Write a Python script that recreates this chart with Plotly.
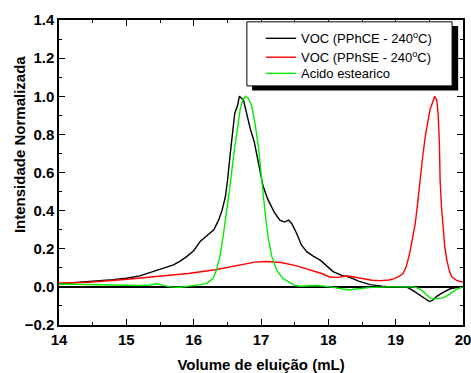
import plotly.graph_objects as go

# VOC (PPhCE - 240 C)  -- black
x_pphce = [14.0, 14.3, 14.5, 14.8, 15.0, 15.2, 15.4, 15.55, 15.7, 15.8, 15.9, 16.0, 16.1, 16.2,
           16.3, 16.37, 16.42, 16.47, 16.5, 16.55, 16.58, 16.61, 16.65, 16.68, 16.71, 16.74,
           16.78, 16.84, 16.9, 16.96, 17.03, 17.1, 17.2, 17.28, 17.35, 17.41, 17.46, 17.53,
           17.6, 17.68, 17.78, 17.88, 17.98, 18.07, 18.2, 18.32, 18.45, 18.62, 18.8, 18.92,
           19.05, 19.16, 19.26, 19.36, 19.44, 19.5, 19.55, 19.61, 19.7, 19.81, 19.9, 20.0]
y_pphce = [0.015, 0.022, 0.03, 0.038, 0.045, 0.058, 0.08, 0.095, 0.115, 0.135, 0.16, 0.19, 0.24, 0.27,
           0.30, 0.35, 0.40, 0.47, 0.55, 0.72, 0.80, 0.91, 0.95, 1.0, 0.99, 0.98,
           0.92, 0.83, 0.76, 0.66, 0.53, 0.46, 0.39, 0.35, 0.34, 0.35, 0.33, 0.28,
           0.22, 0.185, 0.16, 0.14, 0.11, 0.08, 0.06, 0.05, 0.03, 0.012, 0.004, 0.0,
           0.0, 0.0, -0.02, -0.045, -0.065, -0.077, -0.07, -0.05, -0.03, -0.01, -0.003, 0.0]

# VOC (PPhSE - 240 C)  -- red
x_pphse = [14.0, 14.44, 14.93, 15.43, 15.92, 16.32, 16.66, 16.91, 17.08, 17.3, 17.53, 17.73,
           17.9, 18.02, 18.15, 18.27, 18.4, 18.52, 18.65, 18.77, 18.9, 18.97, 19.05, 19.11,
           19.16, 19.21, 19.25, 19.29, 19.33, 19.36, 19.4, 19.44, 19.48, 19.51, 19.55, 19.58,
           19.61, 19.63, 19.65, 19.66, 19.68, 19.71, 19.73, 19.76, 19.8, 19.83, 19.9, 19.96, 20.0]
y_pphse = [0.02, 0.024, 0.037, 0.054, 0.07, 0.09, 0.115, 0.13, 0.133, 0.128, 0.11, 0.09,
           0.07, 0.052, 0.05, 0.058, 0.05, 0.04, 0.035, 0.033, 0.036, 0.042, 0.055, 0.07,
           0.11, 0.18, 0.25, 0.33, 0.45, 0.56, 0.68, 0.79, 0.88, 0.93, 0.97, 1.0,
           0.98, 0.91, 0.75, 0.56, 0.42, 0.30, 0.21, 0.14, 0.08, 0.054, 0.035, 0.028, 0.025]

# Acido estearico -- green
x_acido = [14.0, 14.4, 14.86, 15.2, 15.35, 15.45, 15.55, 15.65, 15.8, 15.95, 16.1, 16.2, 16.29,
           16.34, 16.39, 16.44, 16.49, 16.54, 16.59, 16.64, 16.69, 16.73, 16.77, 16.81, 16.86,
           16.91, 16.96, 17.0, 17.03, 17.07, 17.11, 17.16, 17.23, 17.32, 17.43, 17.5, 17.58,
           17.83, 18.03, 18.15, 18.3, 18.45, 18.6, 18.85, 19.1, 19.26, 19.34, 19.41, 19.46,
           19.51, 19.57, 19.63, 19.7, 19.76, 19.84, 19.91, 20.0]
y_acido = [0.015, 0.012, 0.007, 0.007, 0.01, 0.016, 0.008, 0.0, -0.002, 0.004, 0.012, 0.02, 0.045,
           0.09, 0.16, 0.27, 0.39, 0.53, 0.68, 0.82, 0.93, 0.98, 1.0, 0.99, 0.95,
           0.86, 0.74, 0.60, 0.48, 0.36, 0.25, 0.16, 0.09, 0.045, 0.022, 0.008, 0.003,
           0.007, 0.0, -0.006, -0.016, -0.01, -0.004, 0.0, 0.0, 0.0, -0.008, -0.025, -0.042,
           -0.058, -0.064, -0.063, -0.058, -0.047, -0.03, -0.012, 0.0]

names = ["VOC (PPhCE - 240<sup>o</sup>C)", "VOC (PPhSE - 240<sup>o</sup>C)", "Acido estearico"]
colors = ["black", "#ff0000", "#00ee00"]
xs_all = [x_pphce, x_pphse, x_acido]
ys_all = [y_pphce, y_pphse, y_acido]

FONT = "Liberation Sans, Arial"

fig = go.Figure()
for name, xs, ys, col in zip(names, xs_all, ys_all, colors):
    fig.add_trace(go.Scatter(x=xs, y=ys, mode="lines", name=name,
                             line=dict(color=col, width=1.4)))

tickf = dict(family=FONT, size=15, color="black", weight="bold")
axis_common = dict(showline=True, linecolor="black", linewidth=1.5, mirror="allticks",
                   ticks="inside", ticklen=6, tickwidth=1, tickcolor="black",
                   showgrid=False, tickfont=tickf, automargin=False,
                   ticklabeloverflow="allow")

fig.update_xaxes(range=[14, 20], dtick=1, zeroline=False,
                 minor=dict(ticks="inside", ticklen=3, dtick=0.5, tickcolor="black"),
                 title=dict(text="Volume de eluição (mL)", standoff=14,
                            font=dict(family=FONT, size=15, color="black", weight="bold")),
                 **axis_common)
fig.update_yaxes(range=[-0.2, 1.4], dtick=0.2, tickformat=".1f",
                 zeroline=True, zerolinecolor="black", zerolinewidth=1.5,
                 minor=dict(ticks="inside", ticklen=3, dtick=0.1, tickcolor="black"),
                 **axis_common)

# legend box drawn by hand, with its drop shadow
fig.add_shape(type="rect", xref="paper", yref="paper", x0=0.478, x1=0.988, y0=0.769, y1=0.980,
              fillcolor="black", line=dict(width=0), layer="above")
fig.add_shape(type="rect", xref="paper", yref="paper", x0=0.465, x1=0.973, y0=0.784, y1=0.994,
              fillcolor="white", line=dict(color="black", width=1), layer="above")
row_y = [0.940, 0.878, 0.825]
for name, col, ry in zip(names, colors, row_y):
    fig.add_shape(type="line", xref="paper", yref="paper", x0=0.512, x1=0.587, y0=ry, y1=ry,
                  line=dict(color=col, width=1.4), layer="above")
    fig.add_annotation(text=name, xref="paper", yref="paper", x=0.594, y=ry,
                       xanchor="left", yanchor="middle", showarrow=False,
                       font=dict(family=FONT, size=13, color="black"))

fig.add_annotation(text="Intensidade Normalizada", xref="paper", yref="paper",
                   x=-0.099, y=0.59, xanchor="center", yanchor="middle",
                   textangle=-90, showarrow=False,
                   font=dict(family=FONT, size=15, color="black", weight="bold"))

fig.update_layout(
    width=471, height=373,
    margin=dict(l=59, r=8, t=20, b=48),
    plot_bgcolor="white", paper_bgcolor="white",
    showlegend=False,
)

# drop the page's default body margin so the figure sits at the window's corner
fig.write_html("out.html", config={"displayModeBar": False},
               post_script="document.body.style.margin='0';")
